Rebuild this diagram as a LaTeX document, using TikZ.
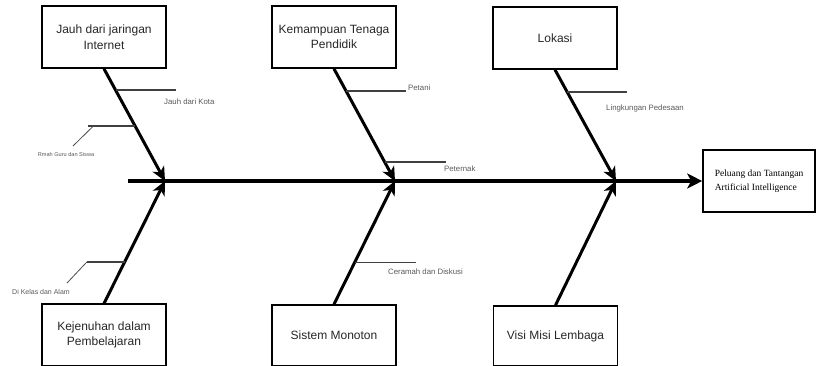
\documentclass[tikz,border=0pt]{standalone}
\usepackage{fontspec}
\setmainfont{Liberation Sans}
\newfontfamily\serifx{Liberation Serif}
\usetikzlibrary{arrows.meta,calc}
\begin{document}
\begin{tikzpicture}[x=1pt,y=-1pt,
  cause/.style={draw=black,line width=1.6pt,minimum width=124pt,minimum height=62pt,inner sep=0pt,align=center,text=black!85,font=\fontsize{12}{15.5}\selectfont},
  effect/.style={draw=black,line width=1.6pt,minimum width=112pt,minimum height=62pt,inner sep=0pt,align=left,font=\serifx\fontsize{9.5}{14}\selectfont},
  rib/.style={line width=3pt,-{Stealth[length=14pt,width=13pt,inset=4pt]}},
  spine/.style={line width=4pt,-{Stealth[length=15pt,width=15pt,inset=4pt]}},
  sub/.style={line width=1.8pt,black!75},
  leader/.style={line width=0.8pt,black!70},
  lbl/.style={text=black!65,inner sep=0pt,font=\fontsize{7.8}{9}\selectfont},
  tiny/.style={text=black!65,inner sep=0pt,font=\fontsize{5.6}{7}\selectfont}]
\useasboundingbox (0,0) rectangle (816,365);
% cause boxes
\node[cause] (b1) at (104,37) {Jauh dari jaringan\\Internet};
\node[cause] (b2) at (334,37) {Kemampuan Tenaga\\Pendidik};
\node[cause] (b3) at (555,38) {Lokasi};
\node[cause,minimum height=61.5pt] (b4) at (104,335) {Kejenuhan dalam\\Pembelajaran};
\node[cause,minimum height=61pt] (b5) at (334,335.5) {Sistem Monoton};
\node[cause,minimum height=60pt] (b6) at (555.5,336) {Visi Misi Lembaga};
% effect
\node[effect] (eff) at (759,181) {Peluang dan Tantangan\\Artificial Intelligence};
% spine
\coordinate (s0) at (128,181);
\coordinate (j1) at (165,181);
\coordinate (j2) at (395,181);
\coordinate (j3) at (616,181);
\draw[spine] (s0) -- (eff.west);
% ribs
\draw[rib] (b1.south) -- (j1);
\draw[rib] (b2.south) -- (j2);
\draw[rib] (b3.south) -- (j3);
\draw[rib] (b4.north) -- (j1);
\draw[rib] (b5.north) -- (j2);
\draw[rib] (b6.north) -- (j3);
% sub-branches
\coordinate (p1) at ($(b1.south)!0.19!(j1)$);
\coordinate (p2) at ($(b1.south)!0.513!(j1)$);
\coordinate (p3) at ($(b2.south)!0.2!(j2)$);
\coordinate (p4) at ($(b2.south)!0.83!(j2)$);
\coordinate (p5) at ($(b3.south)!0.2!(j3)$);
\coordinate (p6) at ($(b4.north)!0.34!(j1)$);
\coordinate (p7) at ($(b5.north)!0.339!(j2)$);
\draw[sub] (p1) -- (p1 -| 176,0);
\draw[sub] (p2) -- (p2 -| 88,0) coordinate (q2);
\draw[sub] (p3) -- (p3 -| 406,0) coordinate (q3);
\draw[sub] (p4) -- (p4 -| 446,0);
\draw[sub] (p5) -- (p5 -| 627,0);
\draw[sub] (p6) -- (p6 -| 87,0) coordinate (q6);
\draw[sub] (p7) -- (p7 -| 416,0);
% leaders
\coordinate (l2) at (73,146);
\coordinate (l6) at (67,283);
\draw[leader] ($(q2)+(5,0)$) -- (l2);
\draw[leader] (q6) -- (l6);
% labels
\node[lbl,anchor=west] (t1) at (164,102) {Jauh dari Kota};
\node[tiny] (t2) at (66,154) {Rmah Guru dan Siswa};
\node[lbl,anchor=west] (t3) at (408,88) {Petani};
\node[lbl,anchor=west] (t4) at (444,169) {Peternak};
\node[lbl,anchor=west] (t5) at (606,108) {Lingkungan Pedesaan};
\node[lbl,font=\fontsize{7}{8}\selectfont] (t6) at (41,292) {Di Kelas dan Alam};
\node[lbl,anchor=west] (t7) at (388,272) {Ceramah dan Diskusi};
\end{tikzpicture}
\end{document}
